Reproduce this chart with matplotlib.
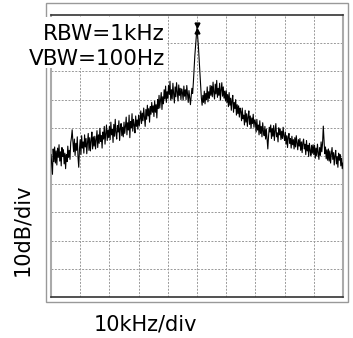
import numpy as np
import matplotlib.pyplot as plt
from matplotlib.patches import Rectangle

# frequency offset in kHz (10 kHz/div), level in dB (10 dB/div, 0..100 on screen)
freq_khz = np.arange(-50, 50.001, 0.25)
level_db = [
    50.5, 47.0, 43.5, 52.5, 48.0, 53.2, 47.5, 51.8, 46.8, 52.8,
    49.5, 54.0, 48.2, 51.5, 46.5, 53.0, 49.8, 52.2, 47.2, 51.0,
    45.5, 50.5, 48.0, 53.5, 49.5, 52.0, 48.8, 54.8, 56.5, 59.3,
    55.0, 51.5, 56.0, 50.2, 54.5, 52.0, 56.8, 49.5, 46.0, 52.5,
    55.8, 50.5, 57.2, 52.8, 55.0, 51.0, 57.5, 53.2, 56.2, 50.8,
    54.8, 58.0, 52.0, 56.5, 51.8, 55.5, 58.5, 52.5, 56.8, 53.5,
    57.0, 52.5, 55.8, 59.0, 53.0, 57.5, 54.5, 59.8, 55.2, 57.2,
    52.8, 58.5, 56.0, 60.5, 54.2, 58.0, 61.0, 55.5, 59.2, 56.5,
    60.5, 55.8, 62.0, 57.5, 59.5, 54.8, 61.2, 57.0, 63.0, 58.2,
    56.0, 60.8, 58.5, 62.5, 55.5, 59.8, 61.5, 57.2, 60.2, 56.8,
    62.0, 58.0, 60.5, 63.8, 57.5, 61.8, 59.2, 64.5, 56.5, 62.2,
    60.0, 65.0, 58.8, 63.0, 61.0, 58.2, 64.2, 60.5, 62.8, 59.5,
    64.5, 60.8, 63.2, 66.0, 61.5, 65.2, 62.5, 67.0, 63.8, 60.5,
    66.5, 63.0, 68.0, 64.2, 66.8, 62.0, 67.5, 64.8, 69.0, 65.5,
    67.8, 64.0, 69.5, 65.5, 68.2, 63.5, 70.0, 66.8, 71.5, 67.0,
    69.8, 72.5, 66.5, 71.0, 68.5, 73.5, 70.2, 74.8, 69.0, 72.8,
    70.5, 75.0, 71.8, 76.5, 69.8, 73.5, 70.2, 75.8, 72.0, 68.8,
    74.5, 71.0, 76.0, 72.8, 69.5, 75.2, 71.5, 74.0, 70.0, 73.8,
    72.5, 69.8, 74.8, 71.2, 73.5, 70.0, 75.0, 71.8, 69.0, 73.2,
    70.5, 68.2, 71.0, 74.0, 72.2, 76.0, 81.0, 85.5, 89.0, 92.0,
    95.7, 92.0, 88.5, 84.0, 79.0, 74.5, 70.5, 68.0, 71.5, 69.0,
    73.0, 68.5, 72.2, 70.0, 74.5, 69.2, 72.8, 70.5, 75.0, 71.5,
    74.8, 71.0, 76.2, 72.5, 70.2, 75.5, 72.0, 76.8, 70.8, 74.0,
    71.5, 75.8, 69.8, 73.5, 76.0, 71.2, 74.5, 70.5, 73.0, 69.5,
    73.2, 69.0, 71.8, 67.5, 72.5, 68.0, 70.5, 66.2, 69.8, 71.5,
    65.5, 69.0, 66.8, 70.0, 64.5, 68.2, 65.0, 67.8, 63.8, 67.0,
    65.8, 62.5, 67.0, 63.2, 64.5, 61.0, 66.2, 62.0, 65.0, 60.5,
    63.8, 66.0, 61.2, 64.2, 59.8, 63.5, 61.5, 64.8, 60.2, 62.8,
    62.0, 58.5, 63.0, 59.2, 61.0, 57.5, 62.5, 58.0, 60.5, 56.8,
    61.8, 58.8, 57.2, 60.5, 56.0, 59.5, 55.8, 52.5, 57.0, 60.2,
    58.5, 61.0, 56.2, 59.8, 57.0, 60.8, 55.5, 59.0, 61.5, 56.8,
    58.2, 55.0, 60.0, 57.5, 59.5, 55.8, 58.8, 56.2, 60.2, 57.0,
    55.5, 58.5, 54.2, 57.2, 53.0, 56.8, 58.0, 54.5, 56.2, 52.8,
    57.0, 54.0, 55.8, 52.5, 56.5, 53.2, 57.2, 54.8, 52.2, 55.8,
    53.5, 56.2, 52.0, 55.0, 51.2, 54.8, 56.0, 52.5, 54.2, 50.5,
    55.5, 51.8, 53.8, 49.8, 54.5, 52.0, 50.2, 53.8, 51.0, 54.0,
    50.5, 53.8, 49.2, 52.8, 50.0, 54.2, 51.2, 48.8, 53.0, 50.2,
    55.0, 51.5, 54.5, 60.6, 55.5, 50.8, 53.2, 49.0, 52.2, 48.5,
    52.5, 48.2, 51.8, 47.5, 50.8, 53.0, 48.8, 51.2, 46.8, 50.2,
    52.0, 47.2, 49.8, 46.0, 51.0, 48.5, 50.5, 46.5, 49.2, 45.5,
    47.5,
]
marker_f = 0.0
marker_db = 95.4

fig = plt.figure(figsize=(3.53, 3.38), dpi=100)
ax = fig.add_axes([51/353, 41/338, 292/353, 282/338])

ax.plot(freq_khz, level_db, color='black', lw=0.8, zorder=3)
ax.plot([marker_f], [marker_db + 0.9], marker='v', ms=3.5, color='black', zorder=4)
ax.plot([marker_f], [marker_db - 0.9], marker='^', ms=3.5, color='black', zorder=4)

ax.set_xlim(-50, 50)
ax.set_ylim(0, 100)
ax.set_xticks(np.arange(-40, 50, 10))
ax.set_yticks(np.arange(10, 100, 10))
ax.tick_params(length=0, labelbottom=False, labelleft=False)
ax.grid(True, color='#999999', lw=0.7, linestyle=(0, (2, 1.5)))

for side in ['top', 'bottom']:
    ax.spines[side].set_color('#333333')
    ax.spines[side].set_linewidth(1.2)
for side in ['left', 'right']:
    ax.spines[side].set_color('#aaaaaa')
    ax.spines[side].set_linewidth(1.5)

# outer gray frame
fig.patches.append(Rectangle((46/353, 36/338), 302/353, 299/338, transform=fig.transFigure,
                             fill=False, edgecolor='#999999', lw=1.0, zorder=1))
# white box behind the bandwidth labels
fig.patches.append(Rectangle((24/353, 270/338), 142/353, 51/338, transform=fig.transFigure,
                             facecolor='white', edgecolor='none', zorder=2))

fig.text(165/353, (338-39.5)/338, 'RBW=1kHz', ha='right', va='baseline', fontsize=15.5, zorder=3)
fig.text(165/353, (338-65)/338, 'VBW=100Hz', ha='right', va='baseline', fontsize=15.5, zorder=3)
fig.text(94/353, (338-331)/338, '10kHz/div', ha='left', va='baseline', fontsize=15)
fig.text(22/353, (338-230)/338, '10dB/div', ha='center', va='center', rotation=90, fontsize=15)

fig.savefig('out.png', dpi=100)
